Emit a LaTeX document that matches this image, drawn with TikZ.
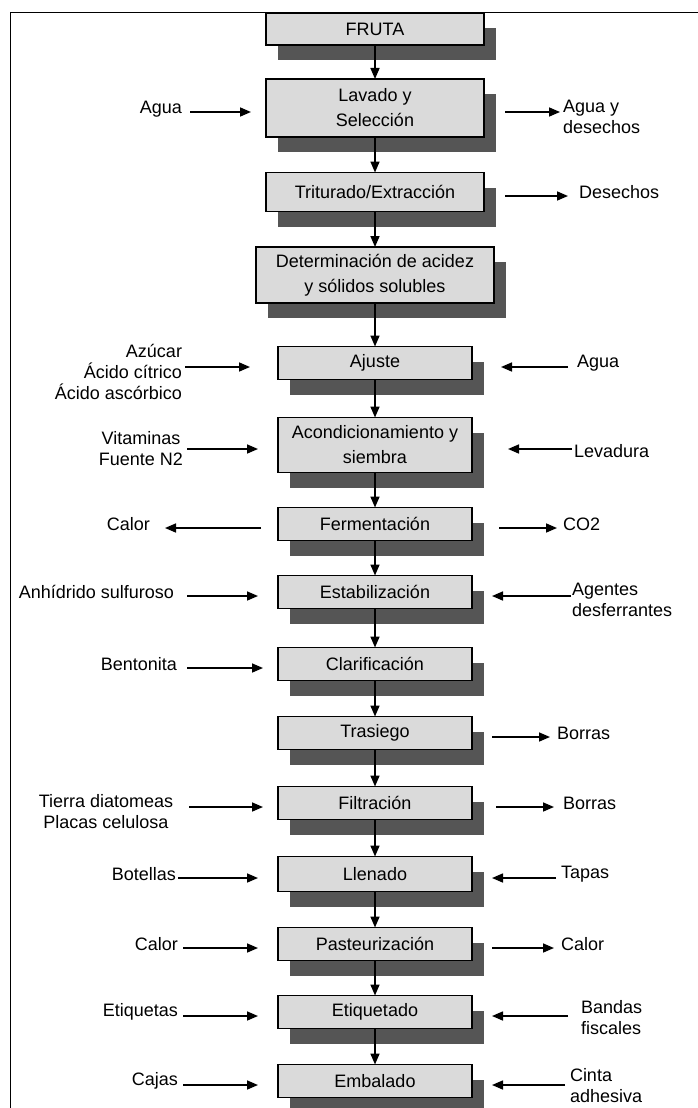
\documentclass[tikz,border=0pt]{standalone}
\usepackage{fontspec}
\setmainfont{Liberation Sans}
\usetikzlibrary{arrows.meta,shadows}
\definecolor{boxfill}{HTML}{DADADA}
\definecolor{shadowc}{HTML}{555555}
\begin{document}
\begin{tikzpicture}[x=1pt,y=-1pt,
  every node/.style={inner sep=0pt, outer sep=0pt},
  proc/.style={draw=black, line width=1.6pt, fill=boxfill, align=center,
    font=\fontsize{18}{25}\selectfont,
    general shadow={fill=shadowc, shadow xshift=12pt, shadow yshift=-15pt}},
  wide/.style={minimum width=218pt},
  narrow/.style={minimum width=194pt, minimum height=33pt},
  lbl/.style={font=\fontsize{18}{21}\selectfont},
  arr/.style={line width=1.6pt, -{Triangle[length=11pt,width=9pt]}},
  harr/.style={arr, transform canvas={yshift=-4pt}},
]
\useasboundingbox (0,0) rectangle (698,1108);
\draw[line width=1pt] (10,1108) -- (10,13) -- (698,13);

% process boxes
\node[proc, wide, minimum height=32pt] (fruta) at (375,29) {FRUTA};
\node[proc, wide, minimum height=58pt] (lav) at (375,108) {Lavado y\\Selección};
\node[proc, wide, minimum height=39pt] (trit) at (375,192) {Triturado/Extracción};
\node[proc, minimum width=238pt, minimum height=56pt] (det) at (375,275) {Determinación de acidez\\y sólidos solubles};
\node[proc, narrow] (aju) at (375,363) {Ajuste};
\node[proc, narrow, minimum height=55pt] (aco) at (375,445) {Acondicionamiento y\\siembra};
\node[proc, narrow] (fer) at (375,524) {Fermentación};
\node[proc, narrow] (est) at (375,592) {Estabilización};
\node[proc, narrow] (cla) at (375,664) {Clarificación};
\node[proc, narrow] (tra) at (375,733) {Trasiego};
\node[proc, narrow] (fil) at (375,803) {Filtración};
\node[proc, narrow, minimum height=35pt] (lle) at (375,874) {Llenado};
\node[proc, narrow] (pas) at (375,944) {Pasteurización};
\node[proc, narrow] (eti) at (375,1012) {Etiquetado};
\node[proc, narrow] (emb) at (375,1081) {Embalado};

% main flow
\foreach \a/\b in {fruta/lav, lav/trit, trit/det, det/aju, aju/aco, aco/fer,
  fer/est, est/cla, cla/tra, tra/fil, fil/lle, lle/pas, pas/eti, eti/emb}
  \draw[arr] (\a.south) -- (\b.north);

% Lavado
\node[lbl, anchor=east] (lagua) at (182,109) {Agua};
\draw[harr, shorten <=8pt, shorten >=15pt] (lagua.east |- lav.west) -- (lav.west);
\node[lbl, anchor=west, align=left] (ragua) at (563,117) {Agua y\\desechos};
\draw[harr, shorten <=21pt, shorten >=3pt] (lav.east) -- (ragua.west |- lav.east);

% Triturado
\node[lbl, anchor=west] (rdes) at (579,192) {Desechos};
\draw[harr, shorten <=21pt, shorten >=11pt] (trit.east) -- (rdes.west |- trit.east);

% Ajuste
\node[lbl, anchor=east, align=right] (laju) at (182,372) {Azúcar\\Ácido cítrico\\Ácido ascórbico};
\draw[harr, shorten <=3pt, shorten >=28pt] (laju.east |- aju.west) -- (aju.west);
\node[lbl, anchor=west] (raju) at (577,363) {Agua};
\draw[harr, shorten <=9pt, shorten >=29pt] (raju.west |- aju.east) -- (aju.east);

% Acondicionamiento
\node[lbl, anchor=east, align=center] (laco) at (183,449) {Vitaminas\\Fuente N2};
\draw[harr, shorten <=4pt, shorten >=20pt] (laco.east |- aco.west) -- (aco.west);
\node[lbl, anchor=west] (raco) at (574,451) {Levadura};
\draw[harr, shorten <=2pt, shorten >=36pt] (raco.west |- aco.east) -- (aco.east);

% Fermentacion
\node[lbl, anchor=east] (lfer) at (150,524) {Calor};
\draw[harr, shorten <=17pt, shorten >=15pt] (fer.west) -- (lfer.east |- fer.west);
\node[lbl, anchor=west] (rfer) at (563,524) {CO2};
\draw[harr, shorten <=27pt, shorten >=6pt] (fer.east) -- (rfer.west |- fer.east);

% Estabilizacion
\node[lbl, anchor=east] (lest) at (174,592) {Anhídrido sulfuroso};
\draw[harr, shorten <=13pt, shorten >=20pt] (lest.east |- est.west) -- (est.west);
\node[lbl, anchor=west, align=left] (rest) at (572,600) {Agentes\\desferrantes};
\draw[harr, shorten <=1pt, shorten >=20pt] (rest.west |- est.east) -- (est.east);

% Clarificacion
\node[lbl, anchor=east] (lcla) at (177,664) {Bentonita};
\draw[harr, shorten <=10pt, shorten >=15pt] (lcla.east |- cla.west) -- (cla.west);

% Trasiego
\node[lbl, anchor=west] (rtra) at (557,733) {Borras};
\draw[harr, shorten <=20pt, shorten >=7pt] (tra.east) -- (rtra.west |- tra.east);

% Filtracion
\node[lbl, align=center] (lfil) at (106,812) {Tierra diatomeas\\Placas celulosa};
\draw[harr, shorten <=16pt, shorten >=15pt] (lfil.east |- fil.west) -- (fil.west);
\node[lbl, anchor=west] (rfil) at (563,803) {Borras};
\draw[harr, shorten <=24pt, shorten >=9pt] (fil.east) -- (rfil.west |- fil.east);

% Llenado
\node[lbl, anchor=east] (llle) at (176,874) {Botellas};
\draw[harr, shorten <=2pt, shorten >=20pt] (llle.east |- lle.west) -- (lle.west);
\node[lbl, anchor=west] (rlle) at (561,874) {Tapas};
\draw[harr, shorten <=5pt, shorten >=20pt] (rlle.west |- lle.east) -- (lle.east);

% Pasteurizacion
\node[lbl, anchor=east] (lpas) at (178,944) {Calor};
\draw[harr, shorten <=5pt, shorten >=20pt] (lpas.east |- pas.west) -- (pas.west);
\node[lbl, anchor=west] (rpas) at (561,944) {Calor};
\draw[harr, shorten <=20pt, shorten >=7pt] (pas.east) -- (rpas.west |- pas.east);

% Etiquetado
\node[lbl, anchor=east] (leti) at (178,1012) {Etiquetas};
\draw[harr, shorten <=5pt, shorten >=20pt] (leti.east |- eti.west) -- (eti.west);
\node[lbl, anchor=west, align=left] (reti) at (581,1018) {Bandas\\fiscales};
\draw[harr, shorten <=13pt, shorten >=20pt] (reti.west |- eti.east) -- (eti.east);

% Embalado
\node[lbl, anchor=east] (lemb) at (178,1081) {Cajas};
\draw[harr, shorten <=5pt, shorten >=20pt] (lemb.east |- emb.west) -- (emb.west);
\node[lbl, anchor=west, align=left] (remb) at (570,1086) {Cinta\\adhesiva};
\draw[harr, shorten <=5pt, shorten >=20pt] (remb.west |- emb.east) -- (emb.east);
\end{tikzpicture}
\end{document}
